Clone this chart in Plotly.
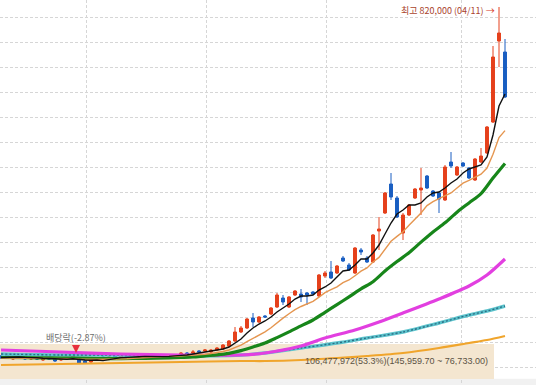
import plotly.graph_objects as go

# ---------------- data (prices in thousand KRW) ----------------
open_k = [122,124,116,118,120,116,118,114,118,116,
          114,118,118,114,112,110,114,120,118,122,
          120,122,118,122,120,122,120,122,118,120,
          124,128,128,132,132,130,134,136,142,152,
          170,178,198,190,202,206,220,238,220,244,
          246,248,250,242,282,290,288,318,304,288,
          334,318,310,372,408,466,438,368,404,438,
          454,482,452,448,434,510,484,508,498,474,
          510,528,590,752,730]
high_k = [124,126,124,122,122,120,120,120,120,118,
          118,120,124,116,114,116,120,122,122,124,
          124,124,124,124,124,124,124,124,124,126,
          130,130,134,134,136,136,140,146,154,180,
          182,198,208,202,204,220,248,244,242,254,
          256,250,252,286,292,312,304,322,308,340,
          338,322,366,400,450,488,442,408,426,458,
          498,484,454,450,504,530,502,510,500,518,
          538,582,742,820,756]
low_k = [116,118,114,116,114,114,114,112,114,110,
         112,114,116,106,106,108,112,114,116,116,
         118,118,116,118,118,118,118,118,116,118,
         122,124,126,128,130,128,132,134,140,150,
         168,176,180,188,198,204,218,224,218,242,
         230,224,244,240,278,276,286,310,292,286,
         324,308,308,334,406,434,398,354,402,436,
         404,456,440,408,432,498,482,500,476,472,
         508,526,588,700,638]
close_k = [118,120,122,120,116,118,116,118,116,112,
           116,116,122,108,108,114,118,116,120,118,
           122,120,122,120,122,120,122,120,122,124,
           128,126,130,130,134,134,138,144,152,170,
           178,196,190,200,200,218,244,230,240,252,
           240,244,246,284,288,278,302,312,294,338,
           330,310,364,376,448,440,400,404,424,456,
           458,458,442,436,500,502,500,502,478,516,
           522,580,720,768,640]
day_idx = list(range(len(close_k)))

ma5_k = [119,119.4,120,120,119.2,119.2,118.4,117.6,116.8,116,
         115.6,115.6,116.4,114.8,114,113.6,114,112.8,115.2,117.2,
         118.8,119.2,120.4,120.4,121.2,120.8,121.2,120.8,121.2,121.6,
         123.2,124,126,127.6,129.6,130.8,133.2,136,140,148,
         156,168,178,186,192,200,210,218,226,236,
         242,242,244,254,260,268,280,292,294,304,
         316,316,328,344,366,388,406,414,424,424,
         428,440,448,450,458,468,476,488,496,500,
         504,520,564,622,646]
ma10_k = [118,118,118,118,117.8,117.6,117.6,117.6,117.6,117.6,
          117.2,116.8,116.8,116.2,115.6,115.4,115.6,115.6,115.6,115.6,
          116,116.6,117.4,118.2,119,119.6,120.2,120.8,121.2,121.4,
          122,122.6,123.4,124.4,125.6,127,128.6,131,134,138.6,
          143.6,150.6,156.6,163.6,170.2,178.6,189.2,197.8,206.6,214.8,
          221,225.8,231.4,239.8,248.6,254.6,260.4,268.6,274,282.6,
          291.6,298.2,310,319.2,335.2,351.4,361.2,370.4,383.4,395.2,
          408,422.8,430.6,436.6,441.8,448,458,467.8,473.2,479.2,
          485.6,497.8,525.6,558.8,572.8]
ma20_idx = [0,4,8,12,16,20,24,28,30,32,34,36,38,40,42,44,46,48,50,52,
            54,56,58,60,62,64,66,68,70,72,74,76,78,80,82,84]
ma20_k = [119,118.6,118.2,117.6,117,116.8,117.4,118.4,119.1,120,
          122.4,124.4,127.4,132.8,140,148,158.8,170.2,182.2,194,
          209.4,224.8,240.2,256.2,270.6,292,310.8,328.6,349.8,370.2,
          388.4,409.6,428.2,446.8,478,507.2]
ma60_idx = [0,10,20,30,40,44,50,54,59,63,67,73,78,81,84]
ma60_k = [134,130,126,124,124,128,142,158,174,190,208,236,262,284,316]
ma120_idx = [0,10,20,30,40,44,50,56,61,67,73,78,81,84]
ma120_k = [126,124,124,122,124,128,138,148,158,170,188,204,212,222]
ma240_idx = [0,10,20,30,40,44,50,56,61,67,73,78,81,84]
ma240_k = [104,106,108,110,112,112,114,118,122,128,138,148,154,162]

month_lines = [14.2, 34.2, 54.3, 76.7]

vp_high = 145959.70
vp_low = 76733.00
vp_volume = 106477972
vp_share = 53.3

peak_idx = 83
peak_price = 820000
peak_label = "최고 820,000 (04/11)"
exdiv_idx = 12.5
exdiv_price = 128000
exdiv_label = "배당락(-2.87%)"

K = 1000
o = [v * K for v in open_k]
h = [v * K for v in high_k]
l = [v * K for v in low_k]
c = [v * K for v in close_k]

RED = "#e5401c"
BLUE = "#1a5fc2"

fig = go.Figure()

# volume profile band: horizontal bar on the (hidden) base x axis -> drawn first
fig.add_trace(go.Bar(
    y=[(vp_high + vp_low) / 2], x=[vp_volume], width=[vp_high - vp_low],
    orientation="h", marker=dict(color="#f4e6d0", line=dict(width=0)),
    xaxis="x", yaxis="y", hoverinfo="skip"))

def line(xs, vals, color, width, dash=None, shape="linear"):
    fig.add_trace(go.Scatter(
        x=xs, y=[v * K for v in vals], mode="lines", xaxis="x2", yaxis="y",
        line=dict(color=color, width=width, dash=dash, shape=shape, smoothing=0.8),
        hoverinfo="skip"))

line(ma240_idx, ma240_k, "#f0a52c", 2.2, shape="spline")
line(ma120_idx, ma120_k, "#5cc3cc", 3.4, shape="spline")
line(ma120_idx, ma120_k, "#2b6f86", 1.4, dash="2px,2px", shape="spline")
line(ma60_idx, ma60_k, "#e23fe0", 3.2, shape="spline")
line(ma20_idx, ma20_k, "#17861a", 3.2, shape="spline")
line(day_idx, ma10_k, "#e59650", 1.4)
line(day_idx, ma5_k, "#111111", 1.4)

fig.add_trace(go.Candlestick(
    x=day_idx, open=o, high=h, low=l, close=c, xaxis="x2", yaxis="y",
    increasing=dict(line=dict(color=RED, width=1), fillcolor=RED),
    decreasing=dict(line=dict(color=BLUE, width=1), fillcolor=BLUE),
    whiskerwidth=0, hoverinfo="skip"))

# light strip below the band
fig.add_shape(type="rect", xref="paper", x0=0, x1=1, yref="y", y0=0, y1=vp_low,
              fillcolor="#f1f1f1", line=dict(width=0), layer="below")

fig.add_annotation(
    x=peak_idx, y=peak_price, xref="x2", yref="y", xanchor="right", yanchor="middle",
    xshift=-2, yshift=-3, showarrow=False,
    text=f'<span style="color:#a9432c">{peak_label}</span> <span style="color:#d83a1e">→</span>',
    font=dict(family="Noto Sans CJK KR", size=9))

fig.add_annotation(
    x=exdiv_idx, y=exdiv_price, xref="x2", yref="y", showarrow=True,
    arrowhead=2, arrowsize=1, arrowwidth=1.6, arrowcolor="#e8303c",
    ax=0, ay=-16, text=exdiv_label,
    font=dict(family="Noto Sans CJK KR", size=9, color="#6d6d6d"))

fig.add_annotation(
    x=vp_volume, y=(vp_high + vp_low) / 2, xref="x", yref="y",
    xanchor="right", yanchor="middle", xshift=-4, showarrow=False,
    text=f"{vp_volume:,}({vp_share}%)({vp_high:,.2f} ~ {vp_low:,.2f})",
    font=dict(family="Liberation Sans", size=9, color="#5b5244"))

W, H = 536, 385
grid = dict(showgrid=True, gridcolor="#d6d6d6", griddash="3px,2px", gridwidth=1,
            zeroline=False, showline=False, ticks="", showticklabels=False)
fig.update_layout(
    width=W, height=H, margin=dict(l=0, r=0, t=0, b=0),
    paper_bgcolor="white", plot_bgcolor="white", showlegend=False,
    bargap=0,
    xaxis=dict(range=[0, vp_volume * W / 494], visible=False,
               rangeslider=dict(visible=False)),
    xaxis2=dict(range=[-1/6, 535/6], tickvals=month_lines, overlaying="x",
                rangeslider=dict(visible=False), **grid),
    yaxis=dict(range=[64000, 834000], dtick=50000, tick0=0, **grid),
)

fig.write_html("out.html", config={"displayModeBar": False},
               post_script="document.body.style.margin='0';")
